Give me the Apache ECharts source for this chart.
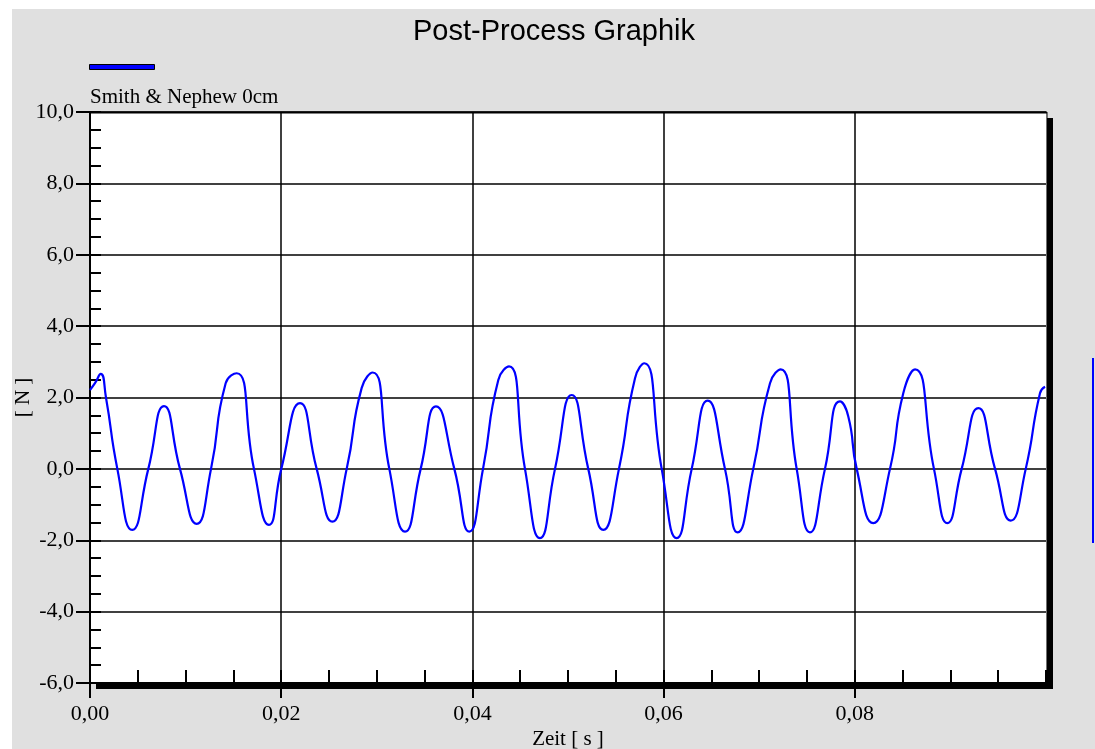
<!DOCTYPE html>
<html>
<head>
<meta charset="utf-8">
<script src="https://cdn.jsdelivr.net/npm/echarts@6/dist/echarts.min.js"></script>
<style>html,body{margin:0;padding:0;background:#fff}#c{width:1095px;height:749px}</style>
</head>
<body>
<div id="c"></div>
<script>
// time [s]
const timeS = [0.0000,0.00052,0.00112,0.00167,0.00286,0.00442,0.00610,0.00774,0.00941,0.01116,0.01266,0.01419,0.01535,0.01715,0.01872,0.02001,0.02197,0.02371,0.02535,0.02685,0.02842,0.02957,0.03131,0.03295,0.03459,0.03619,0.03811,0.03968,0.04111,0.04271,0.04383,0.04550,0.04707,0.04864,0.05039,0.05212,0.05369,0.05533,0.05701,0.05798,0.05980,0.06137,0.06294,0.06461,0.06642,0.06775,0.06938,0.07113,0.07225,0.07392,0.07531,0.07688,0.07845,0.07932,0.08020,0.08193,0.08368,0.08507,0.08630,0.08828,0.08968,0.09118,0.09292,0.09467,0.09631,0.09788,0.09937,0.09990];
// force [N]
const forceN = [2.21,2.40,2.66,2.00,0,-1.71,0,1.76,0,-1.54,0,2.40,2.68,0,-1.57,0,1.84,0,-1.48,0,2.27,2.70,0,-1.76,0,1.75,0,-1.76,0,2.49,2.87,0,-1.94,0,2.07,0,-1.71,0,2.54,2.96,0,-1.94,0,1.91,0,-1.78,0,2.40,2.79,0,-1.78,0,1.89,1.47,0,-1.52,0,2.12,2.79,0,-1.52,0,1.70,0,-1.45,0,2.12,2.30];
const xTicks = [0, 0.02, 0.04, 0.06, 0.08];
const seriesName = 'Smith & Nephew 0cm';
const titleText = 'Post-Process Graphik';
const xName = 'Zeit [ s ]';
const yName = '[ N ]';

const data = timeS.map((t, i) => [t, forceN[i]]);
const serif = '"Liberation Serif", "Times New Roman", serif';

const chart = echarts.init(document.getElementById('c'));
chart.setOption({
  backgroundColor: '#ffffff',
  animation: false,
  grid: {left: 90, top: 112, right: 49, bottom: 66, outerBoundsMode: 'none', containLabel: false,
    show: true, backgroundColor: '#ffffff', borderColor: '#000', borderWidth: 0},
  xAxis: [{
    type: 'value', min: 0, max: 0.1, interval: 0.02,
    name: xName, nameLocation: 'middle', nameGap: 46, nameMoveOverlap: false,
    nameTextStyle: {fontFamily: serif, fontSize: 21, color: '#000'},
    axisLine: {show: true, onZero: false, lineStyle: {color: '#000', width: 2}},
    axisTick: {show: true, inside: false, length: 15, customValues: xTicks, lineStyle: {color: '#000', width: 2}},
    axisLabel: {fontFamily: serif, fontSize: 22, color: '#000', margin: 20, customValues: xTicks,
      formatter: v => v.toFixed(2).replace('.', ',')},
    splitLine: {show: true, lineStyle: {color: '#000', width: 1.5}}
  }, {
    type: 'value', min: 0, max: 0.1, interval: 0.005, position: 'bottom',
    axisLine: {show: false, onZero: false}, axisLabel: {show: false}, splitLine: {show: false},
    axisTick: {show: true, inside: true, length: 13, lineStyle: {color: '#000', width: 2}}
  }],
  yAxis: [{
    type: 'value', min: -6, max: 10, interval: 2,
    name: yName, nameLocation: 'middle', nameGap: 56, nameMoveOverlap: false,
    nameTextStyle: {fontFamily: serif, fontSize: 21, color: '#000'},
    axisLine: {show: true, onZero: false, lineStyle: {color: '#000', width: 2}},
    axisTick: {show: true, inside: false, length: 14, lineStyle: {color: '#000', width: 2}},
    axisLabel: {fontFamily: serif, fontSize: 22, color: '#000', margin: 16,
      formatter: v => v.toFixed(1).replace('.', ',')},
    splitLine: {show: true, lineStyle: {color: '#000', width: 1.5}}
  }, {
    type: 'value', min: -6, max: 10, interval: 0.5, position: 'left', offset: 0,
    axisLine: {show: false, onZero: false}, axisLabel: {show: false}, splitLine: {show: false},
    axisTick: {show: true, inside: true, length: 11, lineStyle: {color: '#000', width: 2}}
  }],
  series: [{
    name: seriesName, type: 'line', data: data, xAxisIndex: 0, yAxisIndex: 0,
    showSymbol: false, smooth: 0.55,
    lineStyle: {color: '#0000ff', width: 2.2}, itemStyle: {color: '#0000ff'}
  }],
  graphic: [
    {type: 'rect', z: -10, silent: true, shape: {x: 12, y: 9, width: 1083, height: 740}, style: {fill: '#e0e0e0'}},
    {type: 'text', style: {x: 554, y: 32, text: titleText, textAlign: 'center', textVerticalAlign: 'middle', font: 'normal 29px "Liberation Sans", Arial, sans-serif', fill: '#000'}},
    {type: 'rect', shape: {x: 89.5, y: 64.5, width: 65, height: 5}, style: {fill: '#0000ff', stroke: '#000', lineWidth: 1}},
    {type: 'text', style: {x: 90, y: 97, text: seriesName, textAlign: 'left', textVerticalAlign: 'middle', font: 'normal 21px ' + serif, fill: '#000'}},
    {type: 'rect', shape: {x: 1047, y: 118, width: 6, height: 571}, style: {fill: '#000'}},
    {type: 'rect', shape: {x: 96, y: 683, width: 957, height: 6}, style: {fill: '#000'}},
    {type: 'line', shape: {x1: 1047, y1: 112, x2: 1047, y2: 683}, style: {stroke: '#000', lineWidth: 1}},
    {type: 'line', shape: {x1: 90, y1: 112.5, x2: 1047, y2: 112.5}, style: {stroke: '#000', lineWidth: 2}},
    {type: 'line', shape: {x1: 1093, y1: 358, x2: 1093, y2: 543}, style: {stroke: '#0000ff', lineWidth: 2}}
  ]
});
</script>
</body>
</html>
